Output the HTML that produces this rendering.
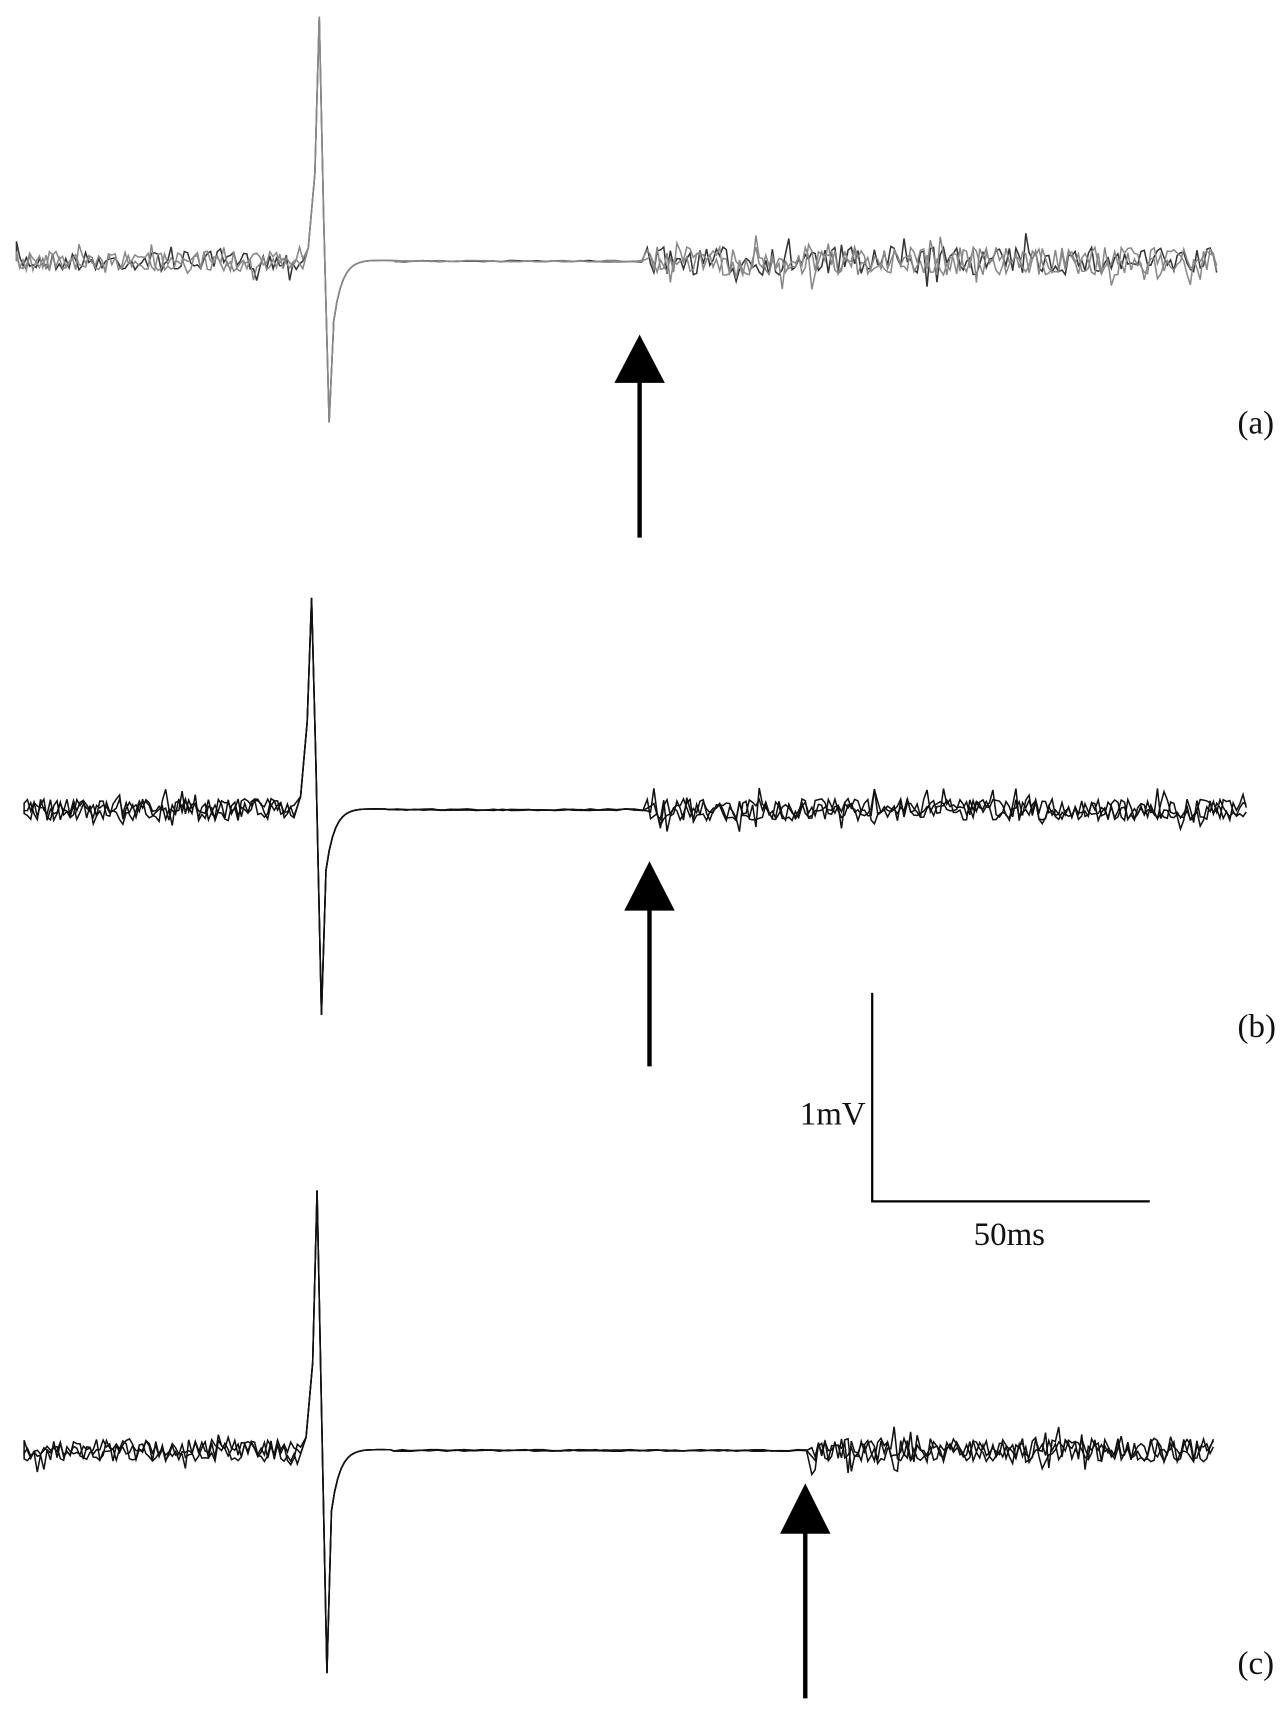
<!DOCTYPE html>
<html><head><meta charset="utf-8"><style>
html,body{margin:0;padding:0;background:#fff;width:1288px;height:1728px;overflow:hidden}
svg{display:block}
text{font-family:"Liberation Serif",serif;font-size:30px;fill:#111}
</style></head><body>
<svg id="s" width="1288" height="1728" viewBox="0 0 1174 1575">
<g id="tr"></g>
<g fill="#000" stroke="#000">
<line x1="583" y1="340" x2="583" y2="490" stroke-width="4"/>
<polygon points="583,305 560,349 606,349" stroke="none"/>
<line x1="592" y1="820" x2="592" y2="972" stroke-width="4"/>
<polygon points="592,785 569,830 615,830" stroke="none"/>
<line x1="734" y1="1390" x2="734" y2="1548" stroke-width="4"/>
<polygon points="734,1352 711,1398 757,1398" stroke="none"/>
<line x1="795" y1="905" x2="795" y2="1096" stroke-width="2"/>
<line x1="795" y1="1095" x2="1048" y2="1095" stroke-width="2"/>
</g>
<text x="1128" y="395">(a)</text>
<text x="1128" y="945">(b)</text>
<text x="1128" y="1526">(c)</text>
<text x="789" y="1025" text-anchor="end">1mV</text>
<text x="920" y="1135" text-anchor="middle">50ms</text>
</svg>
<script>
var seed=7;function r(){seed=(seed*16807)%2147483647;return seed/2147483647-0.5;}
function trace(x0,x1,y,sx,top,bot,qEnd,amp,col,w,amp2){
 var d="M"+x0+","+y;var x;
 for(x=x0;x<sx-14;x+=3)d+=" L"+x+","+(y+r()*amp*(r()>0.42?2:1)).toFixed(1);
 d+=" L"+(sx-10)+","+(y-12)+" L"+(sx-4)+","+(y-80)+" L"+sx+","+top+" L"+(sx+4)+","+(y-40)+" L"+(sx+9)+","+bot+" L"+(sx+13)+","+(y+60);
 for(x=sx+13;x<sx+70;x+=3){var t=(x-sx-13);d+=" L"+x+","+(y+60*Math.exp(-t/8)-4*Math.exp(-t/30)).toFixed(1);}
 for(x=sx+70;x<qEnd;x+=8)d+=" L"+x+","+(y+r()*1.5).toFixed(1);
 for(x=qEnd;x<x1;x+=3)d+=" L"+x+","+(y+r()*amp2*(r()>0.4?2:1)).toFixed(1);
 var p=document.createElementNS("http://www.w3.org/2000/svg","path");
 p.setAttribute("d",d);p.setAttribute("fill","none");p.setAttribute("stroke",col);p.setAttribute("stroke-width",w);
 document.getElementById("tr").appendChild(p);
}
for(var i=0;i<3;i++){
 trace(15,1112,238,291,15,385,590,18,i==0?"#333":"#888",1.4,26);
 trace(22,1137,738,284,545,925,590,20,"#111",1.4,20);
 trace(22,1108,1322,289,1085,1525,740,20,"#111",1.4,22);
}
</script>
</body></html>
